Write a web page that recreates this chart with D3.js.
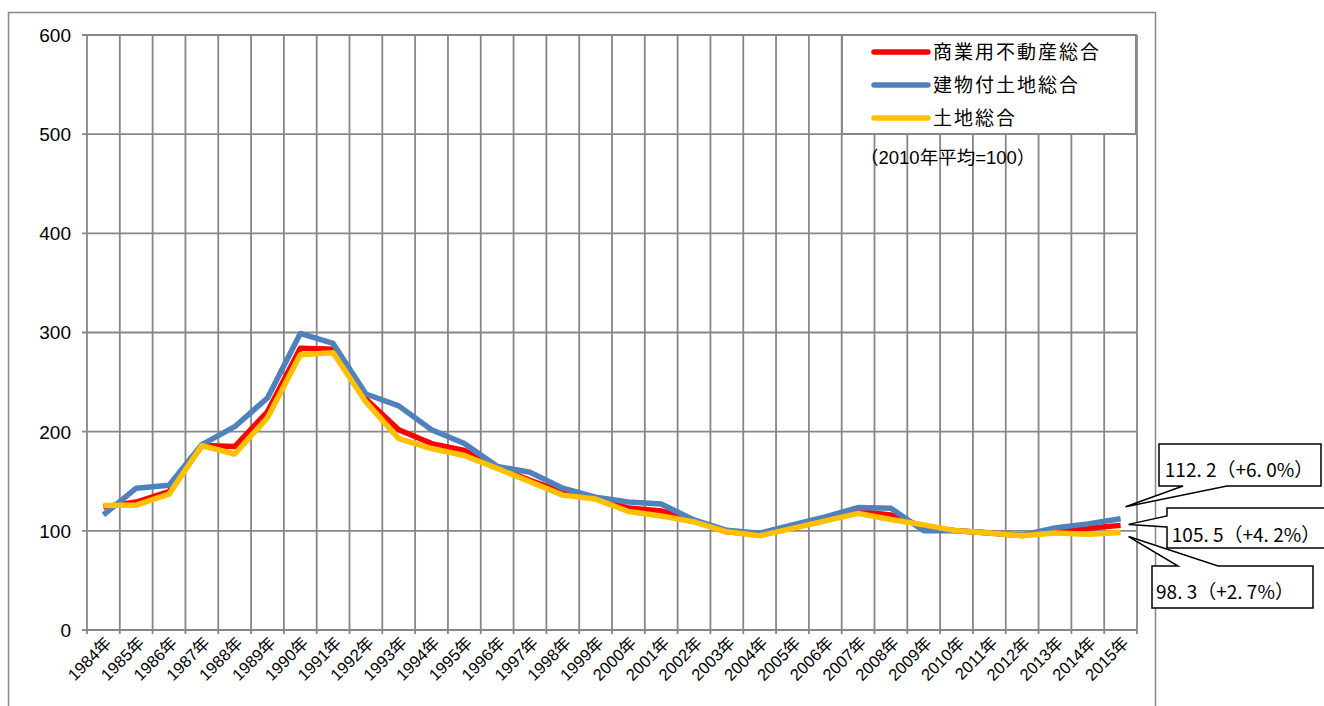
<!DOCTYPE html>
<html><head><meta charset="utf-8">
<script src="https://cdn.jsdelivr.net/npm/d3@7"></script>
<style>html,body{margin:0;padding:0;background:#fff;}</style>
</head><body>
<svg id="c" width="1324" height="706"></svg>
<script>
const years = ["1984年","1985年","1986年","1987年","1988年","1989年","1990年","1991年","1992年","1993年","1994年","1995年","1996年","1997年","1998年","1999年","2000年","2001年","2002年","2003年","2004年","2005年","2006年","2007年","2008年","2009年","2010年","2011年","2012年","2013年","2014年","2015年"];
const commercial = [124,129,139.5,186,185,220,284,283,233,202,188,181,164,151,139,133,123,120,110,99,96,104,111,119.5,116,104,100,97.8,95.3,99,102.5,105.5];
const buildingLand = [116,143,146,187,205,234,299,289,238,226,202,188,165,159,143,134,129,127,111,100.5,97.5,106,114,123.5,122.7,100,100,98,95.5,103,107,112.2];
const land = [125.5,126,137,186,177.5,214,277.5,279.5,230,193,183,176,163,149.5,136,132,119.5,115,109,99,95,102.5,110,117.6,111.5,106,100,97.8,95,97.8,96.5,98.3];
const yTicks = [0,100,200,300,400,500,600];
const seriesNames = ["商業用不動産総合","建物付土地総合","土地総合"];
const seriesColors = ["#FF0000","#4F81BD","#FFC000"];
const callouts = ["112. 2（+6. 0%）","105. 5（+4. 2%）","98. 3（+2. 7%）"];
const note = "（2010年平均=100）";

const svg = d3.select("#c");
const L=87,R=1137,T=35,B=630;
const x = d3.scaleBand().domain(years).range([L,R]).padding(0);
const y = d3.scaleLinear().domain([0,600]).range([B,T]);
const cx = d => x(d)+x.bandwidth()/2;
const grid="#878787";

// outer border
svg.append("rect").attr("x",8.5).attr("y",12.5).attr("width",1147).attr("height",720)
  .attr("fill","none").attr("stroke",grid).attr("stroke-width",1.5);

// horizontal grid
svg.append("g").selectAll("line").data(yTicks).join("line")
  .attr("x1",L-5).attr("x2",R).attr("y1",d=>y(d)).attr("y2",d=>y(d))
  .attr("stroke",grid).attr("stroke-width",1.8);
// vertical grid
const bounds = years.map(d=>x(d)).concat([R]);
svg.append("g").selectAll("line").data(bounds).join("line")
  .attr("x1",d=>d).attr("x2",d=>d).attr("y1",T).attr("y2",B+4)
  .attr("stroke",grid).attr("stroke-width",1.8);

// y labels
svg.append("g").selectAll("text").data(yTicks).join("text")
  .attr("x",71).attr("y",d=>y(d)).attr("dy","0.36em").attr("text-anchor","end")
  .attr("font-family","Liberation Sans, Arial, sans-serif").attr("font-size",19)
  .text(d=>d);

// x labels
svg.append("g").selectAll("text").data(years).join("text")
  .attr("transform",d=>`translate(${cx(d)+5},${B+10}) rotate(-45)`)
  .attr("text-anchor","end").attr("dy","0.35em")
  .attr("font-family","Liberation Sans, 'Noto Sans CJK JP', sans-serif").attr("font-size",16.5)
  .text(d=>d);

// lines
const data = [commercial, buildingLand, land];
const line = d3.line().x((d,i)=>cx(years[i])).y(d=>y(d));
data.forEach((s,k)=>{
  svg.append("path").datum(s).attr("d",line).attr("fill","none")
    .attr("stroke",seriesColors[k]).attr("stroke-width",5.5).attr("stroke-linejoin","round");
});

// legend
const lg = svg.append("g");
lg.append("rect").attr("x",842).attr("y",35).attr("width",294).attr("height",99)
  .attr("fill","#fff").attr("stroke",grid).attr("stroke-width",2);
seriesNames.forEach((n,i)=>{
  const yy = 52 + i*33;
  lg.append("line").attr("x1",874).attr("x2",928).attr("y1",yy).attr("y2",yy)
    .attr("stroke",seriesColors[i]).attr("stroke-width",5.5).attr("stroke-linecap","round");
  lg.append("text").attr("x",933).attr("y",yy).attr("dy","0.36em")
    .attr("font-family","'Noto Sans CJK JP', sans-serif").attr("font-size",19).attr("letter-spacing",2)
    .text(n);
});
svg.append("text").attr("x",860).attr("y",157).attr("dy","0.36em")
  .attr("font-family","Liberation Sans, 'Noto Sans CJK JP', sans-serif").attr("font-size",18.5)
  .text(note);

// callouts
const lastI = years.length-1;
const px = cx(years[lastI]);
const ends = [buildingLand[lastI], commercial[lastI], land[lastI]];
const boxes = [
  {x:1159,y:444,w:162,h:42, tip:[px+5,y(ends[0])-12], path:"bottom", a:1183,b:1227, tx:1239, ty:470},
  {x:1167,y:508,w:170,h:40, tip:[px+8,y(ends[1])-1], path:"left", a:516,b:527, tx:1246, ty:535},
  {x:1152,y:566,w:161,h:42, tip:[px+8,y(ends[2])+4], path:"top", a:1178,b:1218, tx:1225, ty:592}
];
boxes.forEach((bx,i)=>{
  const [tx,ty]=bx.tip;
  let p;
  const x0=bx.x,y0=bx.y,x1=bx.x+bx.w,y1=bx.y+bx.h;
  if(bx.path==="bottom") p=`M${x0},${y0}H${x1}V${y1}H${bx.b}L${tx},${ty}L${bx.a},${y1}H${x0}Z`;
  else if(bx.path==="left") p=`M${x0},${y0}H${x1}V${y1}H${x0}V${bx.b}L${tx},${ty}L${x0},${bx.a}Z`;
  else p=`M${x0},${y0}H${bx.a}L${tx},${ty}L${bx.b},${y0}H${x1}V${y1}H${x0}Z`;
  svg.append("path").attr("d",p).attr("fill","#fff").attr("stroke","#000").attr("stroke-width",1.5);
  svg.append("text").attr("x",bx.tx).attr("y",bx.ty).attr("dy","0.36em").attr("text-anchor","middle")
    .attr("font-family","'Noto Sans CJK JP', sans-serif").attr("font-size",19)
    .text(callouts[i]);
});
</script>
</body></html>
